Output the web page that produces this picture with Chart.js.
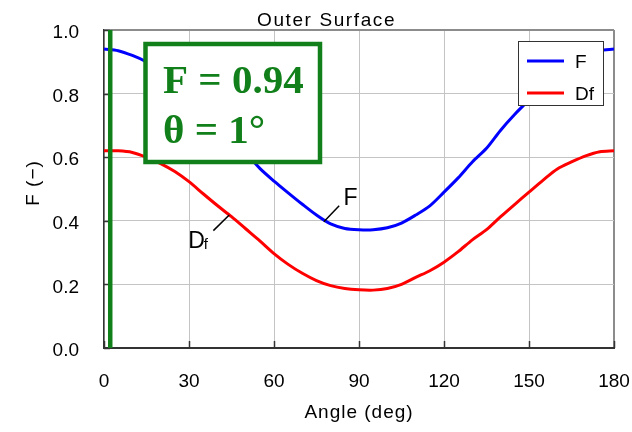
<!DOCTYPE html>
<html>
<head>
<meta charset="utf-8">
<script src="https://cdn.jsdelivr.net/npm/chart.js@4/dist/chart.umd.min.js"></script>
<style>
  html, body { margin: 0; background: #fff; }
  canvas { display: block; }
</style>
</head>
<body>
<canvas id="chart" width="632" height="432"></canvas>
<script>
// values
const angles = [0, 5, 10, 15, 20, 25, 30, 35, 40, 45, 50, 55, 60, 65, 70, 75, 80, 85, 90,
  95, 100, 105, 110, 115, 120, 125, 130, 135, 140, 145, 150, 155, 160, 165, 170, 175, 180];
const fValues = [0.94, 0.935, 0.92, 0.90, 0.875, 0.84, 0.80, 0.755, 0.71, 0.665, 0.615, 0.565, 0.525,
  0.488, 0.452, 0.418, 0.39, 0.376, 0.372, 0.372, 0.378, 0.393, 0.418, 0.447, 0.49, 0.535, 0.585,
  0.628, 0.685, 0.735, 0.78, 0.825, 0.865, 0.895, 0.92, 0.935, 0.94];
const dfValues = [0.62, 0.62, 0.615, 0.60, 0.58, 0.555, 0.523, 0.485, 0.448, 0.413, 0.375, 0.337, 0.297,
  0.263, 0.235, 0.212, 0.196, 0.187, 0.183, 0.182, 0.187, 0.2, 0.222, 0.243, 0.27, 0.303, 0.34,
  0.372, 0.413, 0.452, 0.49, 0.528, 0.563, 0.585, 0.604, 0.617, 0.62];
const xTicks = [0, 30, 60, 90, 120, 150, 180];
const yTicks = [0, 0.2, 0.4, 0.6, 0.8, 1.0];
const markerAngle = 2.2;
const markerText = ["F = 0.94", "θ = 1°"];

const GREEN = "#12801a";
const SANS = "'Liberation Sans', Arial, sans-serif";

function seg(ctx, x1, y1, x2, y2) {
  ctx.beginPath(); ctx.moveTo(x1, y1); ctx.lineTo(x2, y2); ctx.stroke();
}

const overlay = {
  id: "overlay",
  afterDatasetsDraw(chart) {
    const { ctx, chartArea: a, scales: { x, y } } = chart;
    ctx.save();

    // tick marks point inward
    ctx.strokeStyle = "#333"; ctx.lineWidth = 1.5;
    yTicks.forEach(v => { const py = Math.round(y.getPixelForValue(v)) + 0.5; seg(ctx, a.left, py, a.left + 6, py); });
    xTicks.forEach(v => { const px = Math.round(x.getPixelForValue(v)) + 0.5; seg(ctx, px, a.bottom, px, a.bottom - 7); });

    // marker line
    const gx = x.getPixelForValue(markerAngle);
    ctx.strokeStyle = GREEN; ctx.lineWidth = 4.5;
    seg(ctx, gx, a.top, gx, a.bottom);

    // marker box
    ctx.fillStyle = "#fff";
    ctx.fillRect(145.5, 44, 174.5, 118);
    ctx.strokeRect(145.5, 44, 174.5, 118);
    ctx.fillStyle = GREEN;
    ctx.font = "bold 41px 'Liberation Serif', 'Times New Roman', serif";
    ctx.textAlign = "left"; ctx.textBaseline = "alphabetic";
    ctx.fillText(markerText[0], 163, 93);
    ctx.fillText(markerText[1], 163, 143);

    // legend
    ctx.fillStyle = "#fff"; ctx.strokeStyle = "#333"; ctx.lineWidth = 1;
    ctx.fillRect(518.5, 41.5, 85, 64);
    ctx.strokeRect(518.5, 41.5, 85, 64);
    ctx.lineWidth = 3;
    ctx.strokeStyle = "#0000ff"; seg(ctx, 527, 61, 564, 61);
    ctx.strokeStyle = "#ff0000"; seg(ctx, 527, 93, 564, 93);
    ctx.fillStyle = "#000"; ctx.font = "19px " + SANS;
    ctx.fillText("F", 575, 68);
    ctx.fillText("Df", 575, 100);

    // curve labels with leaders
    ctx.strokeStyle = "#000"; ctx.lineWidth = 1.5;
    seg(ctx, x.getPixelForValue(77.6), y.getPixelForValue(0.397), x.getPixelForValue(83.0), y.getPixelForValue(0.447));
    seg(ctx, x.getPixelForValue(38.6), y.getPixelForValue(0.369), x.getPixelForValue(44.2), y.getPixelForValue(0.418));
    ctx.font = "23px " + SANS;
    ctx.fillText("F", x.getPixelForValue(84.5), y.getPixelForValue(0.45));
    const dx = x.getPixelForValue(29.7), dy = y.getPixelForValue(0.3135);
    ctx.fillText("D", dx, dy);
    ctx.font = "15px " + SANS;
    ctx.fillText("f", dx + 15.5, dy + 0.5);

    // titles
    ctx.font = "19px " + SANS;
    ctx.letterSpacing = "1.6px";
    ctx.fillText("Outer Surface", 257, 26);
    ctx.letterSpacing = "1px";
    ctx.textAlign = "center";
    ctx.fillText("Angle (deg)", (a.left + a.right) / 2, 418);
    ctx.translate(39, (a.top + a.bottom) / 2 - 6);
    ctx.rotate(-Math.PI / 2);
    ctx.fillText("F (\u2212)", 0, 0);

    ctx.restore();
  }
};

const toPoints = vals => angles.map((a, i) => ({ x: a, y: vals[i] }));

new Chart(document.getElementById("chart"), {
  type: "line",
  data: {
    datasets: [
      { label: "F", data: toPoints(fValues), borderColor: "#0000ff", borderWidth: 3, pointRadius: 0, tension: 0.3 },
      { label: "Df", data: toPoints(dfValues), borderColor: "#ff0000", borderWidth: 3, pointRadius: 0, tension: 0.3 }
    ]
  },
  options: {
    responsive: false,
    animation: false,
    devicePixelRatio: 1,
    layout: { padding: { top: 30, right: 18, left: 0, bottom: 0 } },
    plugins: { legend: { display: false }, title: { display: false }, tooltip: { enabled: false } },
    scales: {
      x: {
        type: "linear", min: 0, max: 180,
        afterFit: s => { s.height = 84; s.paddingLeft = 0; s.paddingRight = 0; },
        afterBuildTicks: s => { s.ticks = xTicks.map(v => ({ value: v })); },
        grid: {
          drawTicks: false,
          color: c => c.tick && c.tick.value === 180 ? "#8c8c8c" : "#c4c4c4",
          lineWidth: c => c.tick && c.tick.value === 180 ? 2 : 1
        },
        border: { color: "#333", width: 2 },
        ticks: { padding: 22, color: "#000", font: { family: SANS, size: 19 } }
      },
      y: {
        min: 0, max: 1,
        afterFit: s => { s.width = 104; s.paddingTop = 0; s.paddingBottom = 0; },
        afterBuildTicks: s => { s.ticks = yTicks.map(v => ({ value: v })); },
        grid: {
          drawTicks: false,
          color: c => c.tick && c.tick.value === 1 ? "#8c8c8c" : "#c4c4c4",
          lineWidth: c => c.tick && c.tick.value === 1 ? 2 : 1
        },
        border: { color: "#333", width: 1.5 },
        ticks: { padding: 25, labelOffset: 3, color: "#000", font: { family: SANS, size: 19 }, callback: v => v.toFixed(1) }
      }
    }
  },
  plugins: [overlay]
});
</script>
</body>
</html>
